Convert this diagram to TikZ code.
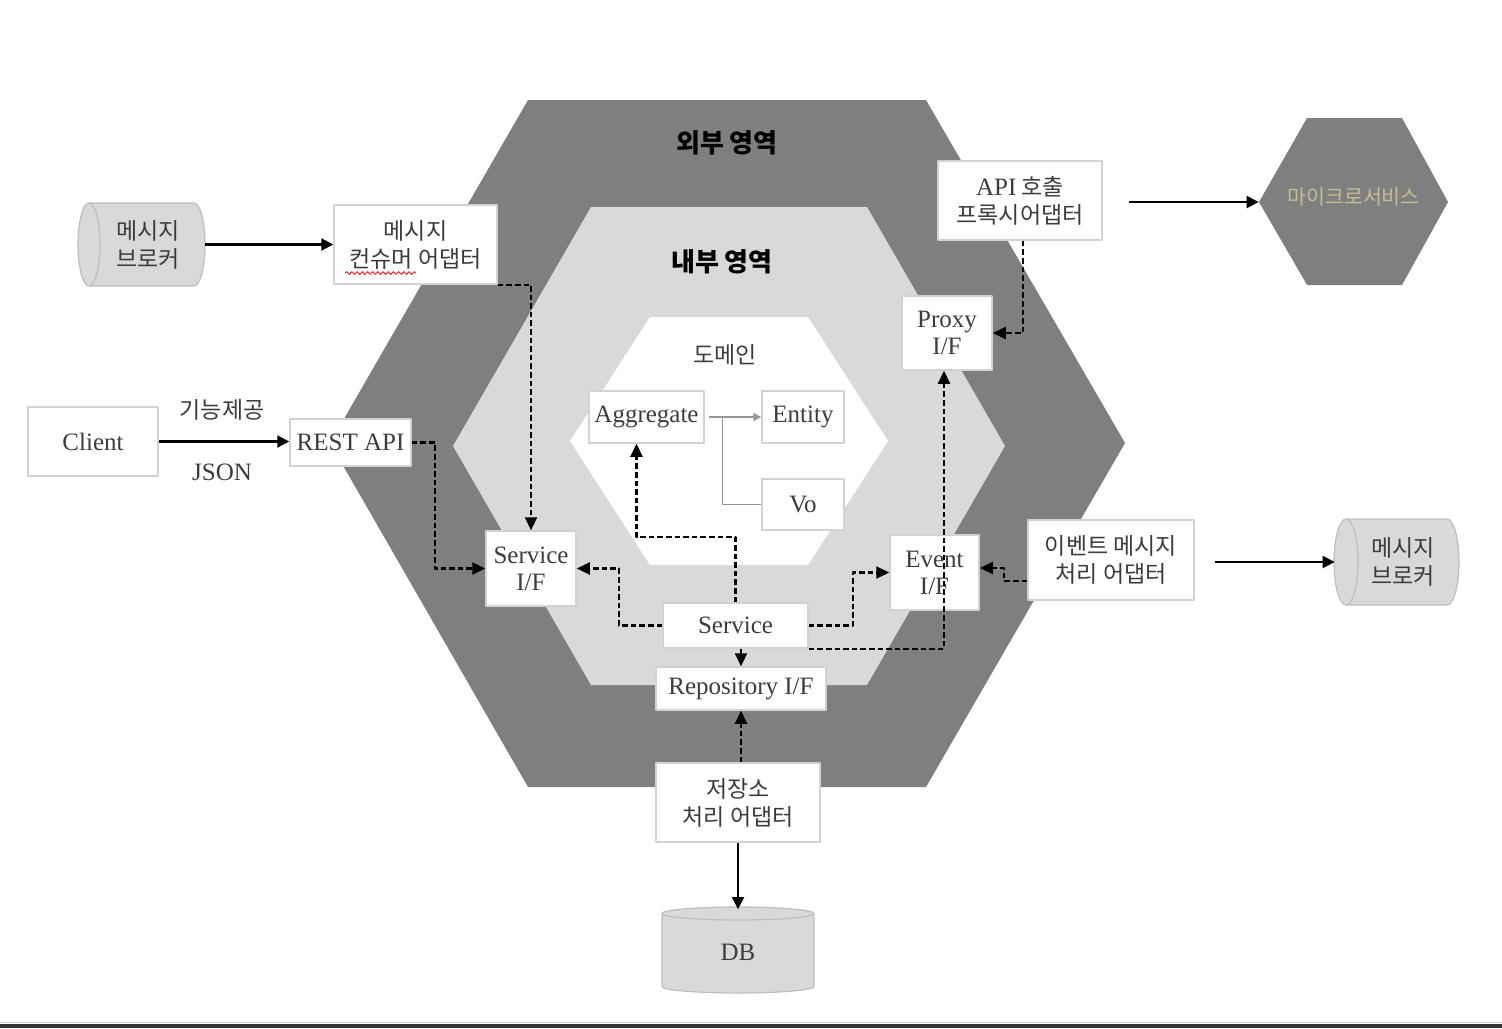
\documentclass[tikz,border=0pt]{standalone}
\usepackage{fontspec}
\setmainfont{Liberation Serif}
\newfontfamily\kr{Noto Sans CJK KR}
\usetikzlibrary{arrows.meta, calc, decorations.pathmorphing}

\definecolor{outerhex}{RGB}{127,127,127}
\definecolor{innerhex}{RGB}{217,217,217}
\definecolor{boxline}{RGB}{210,210,210}
\definecolor{txt}{RGB}{60,60,60}
\definecolor{cylfill}{RGB}{217,217,217}
\definecolor{cylline}{RGB}{190,190,190}
\definecolor{thinline}{RGB}{150,150,150}
\definecolor{microtxt}{RGB}{198,189,146}

\newcommand{\latf}{\rmfamily\fontsize{12.5}{13.5}\selectfont}
\newcommand{\krf}{\kr\fontsize{11.5}{14}\selectfont}

\tikzset{
  box/.style={draw=boxline, fill=white, line width=0.75pt, inner sep=0pt,
    align=center, text=txt, font=\latf},
  krbox/.style={box, font=\krf},
  ghost/.style={inner sep=0pt, align=center, text=txt, font=\krf},
  solidarr/.style={line width=1.1pt, -{Triangle[length=6pt,width=6pt]}},
  dasharr/.style={line width=1.05pt, dash pattern=on 2.8pt off 1.5pt,
    -{Triangle[length=6.5pt,width=6pt]}},
  thinarr/.style={draw=thinline, line width=0.6pt},
  cyl/.style={fill=cylfill, draw=cylline, line width=0.6pt},
  title/.style={font=\kr\bfseries\fontsize{13}{15}\selectfont, text=black},
}

\begin{document}
\begin{tikzpicture}[x=0.5pt, y=-0.5pt, line join=round]
\useasboundingbox (0,0) rectangle (1502,1028);

% --- Esagoni (esterno, interno, dominio) ---
\fill[outerhex] (528,100) -- (926,100) -- (1125,443) -- (926,787) -- (528,787) -- (330,443) -- cycle;
\fill[innerhex] (591,207) -- (867,207) -- (1005,446) -- (867,685) -- (591,685) -- (453,446) -- cycle;
\fill[white] (650,317) -- (808,317) -- (888,441) -- (808,565) -- (650,565) -- (570,441) -- cycle;
\fill[outerhex] (1307,118) -- (1402,118) -- (1448,202) -- (1402,285) -- (1307,285) -- (1259,202) -- cycle;

% --- Titoli delle aree ---
\node[title] (outerlbl) at (727,143) {외부 영역};
\node[title] (innerlbl) at (722,262) {내부 영역};
\node[ghost] (domainlbl) at (725,355) {도메인};
\node[inner sep=0pt, minimum width=94.5pt, minimum height=83.5pt] (micro) at (1353.5,202) {};
\node[text=microtxt, font=\kr\fontsize{10.3}{12}\selectfont] (microlbl) at (1353.5,197) {마이크로서비스};

% --- Cilindri ---
\path[cyl] (89,203) -- (194,203) arc[start angle=90, end angle=-90, x radius=5.5pt, y radius=20.75pt]
  -- (89,286) arc[start angle=270, end angle=90, x radius=5.5pt, y radius=20.75pt] -- cycle;
\draw[cylline, line width=0.6pt] (89,203) arc[start angle=90, end angle=-90, x radius=5.5pt, y radius=20.75pt];
\path[cyl] (1346,519) -- (1447,519) arc[start angle=90, end angle=-90, x radius=6pt, y radius=21.5pt]
  -- (1346,605) arc[start angle=270, end angle=90, x radius=6pt, y radius=21.5pt] -- cycle;
\draw[cylline, line width=0.6pt] (1346,519) arc[start angle=90, end angle=-90, x radius=6pt, y radius=21.5pt];
\path[cyl] (662,913.5) arc[start angle=180, end angle=0, x radius=38pt, y radius=3.25pt]
  -- (814,986.5) arc[start angle=0, end angle=-180, x radius=38pt, y radius=3.25pt] -- cycle;
\draw[cylline, line width=0.6pt] (662,913.5) arc[start angle=180, end angle=360, x radius=38pt, y radius=3.25pt];

\node[ghost, minimum width=57pt, minimum height=41.5pt] (brokerL) at (148,244.5) {메시지\\브로커};
\node[ghost, minimum width=68pt, minimum height=43pt] (brokerR) at (1403,562) {메시지\\브로커};
\node[ghost, font=\latf, minimum width=76pt, minimum height=42.5pt] (db) at (738,952) {DB};

% --- Riquadri ---
\node[krbox, minimum width=81.5pt, minimum height=39.5pt] (cons) at (415.5,244.5) {메시지\\컨슈머 어댑터};
\node[box, minimum width=65pt, minimum height=34.5pt] (client) at (93,441.5) {Client};
\node[box, minimum width=60.5pt, minimum height=23.5pt] (rest) at (350.5,442.5) {REST API};
\node[krbox, minimum width=82pt, minimum height=39.5pt] (proxyad) at (1020,200.5) {{\latf API} 호출\\프록시어댑터};
\node[box, minimum width=45pt, minimum height=37pt] (proxyif) at (947,333) {Proxy\\I/F};
\node[box, minimum width=57.5pt, minimum height=26pt] (agg) at (646.5,417) {Aggregate};
\node[box, minimum width=41pt, minimum height=26pt] (entity) at (803,417) {Entity};
\node[box, minimum width=41pt, minimum height=25.5pt] (vo) at (803,504.5) {Vo};
\node[box, minimum width=45pt, minimum height=37.5pt] (svcif) at (531,568.5) {Service\\I/F};
\node[box, minimum width=44.5pt, minimum height=37.5pt] (evtif) at (934.5,572.5) {Event\\I/F};
\node[box, minimum width=72.5pt, minimum height=22.5pt] (svc) at (735.5,625.5) {Service};
\node[box, minimum width=85pt, minimum height=21.5pt] (repo) at (741,688.5) {Repository I/F};
\node[krbox, minimum width=83pt, minimum height=40pt] (evtad) at (1111,560) {이벤트 메시지\\처리 어댑터};
\node[krbox, minimum width=82pt, minimum height=39.5pt] (store) at (738,802.5) {저장소\\처리 어댑터};

% --- Sottolineatura ondulata ---
\draw[red, line width=0.4pt, decorate, decoration={snake, segment length=2.6pt, amplitude=0.7pt}]
  (345,273) -- (416,273);

% --- Etichette ---
\node[ghost] (funclbl) at (222,410) {기능제공};
\node[ghost, font=\latf] (jsonlbl) at (222,472) {JSON};

% --- Frecce piene ---
\draw[solidarr] (brokerL.east) -- (cons.west);
\draw[solidarr] (client.east) -- (client.east -| rest.west);
\draw[solidarr, shorten <=13pt] (proxyad.east |- micro.west) -- (micro.west);
\draw[solidarr, shorten <=10pt] (evtad.east |- brokerR.west) -- (brokerR.west);
\draw[solidarr] (store.south) -- (db.north);

% --- Frecce del dominio ---
\draw[thinarr, -{Triangle[length=4pt,width=4pt]}, shorten <=2pt] (agg.east) -- (entity.west);
\draw[thinarr] ([xshift=9pt]agg.east) |- (vo.west);

% --- Frecce tratteggiate ---
\draw[dasharr] (cons.south east) -| (svcif.north);
\draw[dasharr] (rest.east) -- ++(11.5pt,0) |- (svcif.west);
\draw[dasharr] (svc.west) -- ++(-21.5pt,0) |- (svcif.east);
\draw[dasharr] (svc.north) -- ++(0,32.5pt) -| ([xshift=-5pt]agg.south);
\draw[dasharr] (svc.east) -- ++(22pt,0) |- (evtif.west);
\draw[dasharr] (svc.south east) -| ([xshift=-1.5pt]proxyif.south);
\draw[dasharr] (svc.south -| repo.north) -- (repo.north);
\draw[dasharr] (store.north -| repo.south) -- (repo.south);
\draw[dasharr] ([xshift=1.5pt]proxyad.south) |- (proxyif.east);
\draw[dasharr] ([yshift=-10.5pt]evtad.west) -- ++(-11.5pt,0) |- ([yshift=2.25pt]evtif.east);

% --- Bordo inferiore ---
\draw[black!20, line width=0.5pt] (0,1022.5) -- (1502,1022.5);
\fill[black!80] (0,1024) rectangle (1502,1028);
\end{tikzpicture}
\end{document}
